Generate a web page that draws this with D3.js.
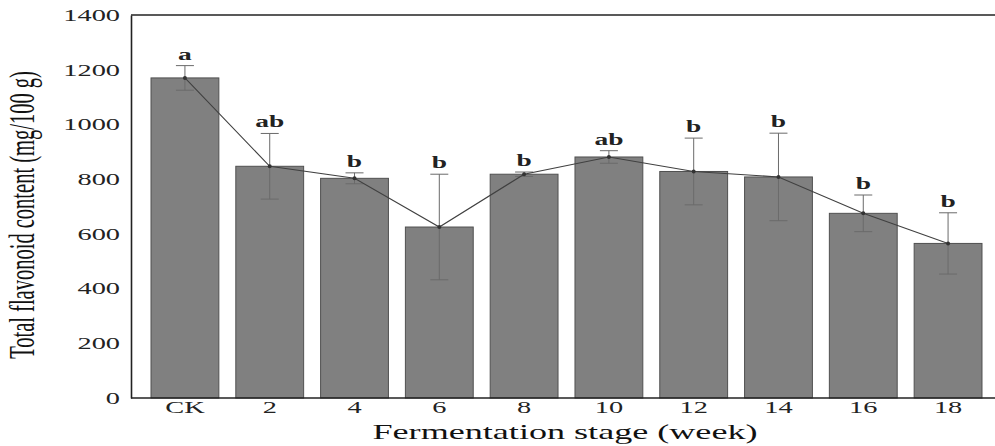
<!DOCTYPE html>
<html>
<head>
<meta charset="utf-8">
<script src="https://cdn.jsdelivr.net/npm/d3@7"></script>
<style>
  body { margin: 0; background: #fff; }
  svg { display: block; font-family: "Liberation Serif", "DejaVu Serif", serif; }
</style>
</head>
<body>
<svg id="chart" width="995" height="446"></svg>
<script>
const stages = ['CK', '2', '4', '6', '8', '10', '12', '14', '16', '18'];
const flavonoid = [1170, 847, 803, 625, 818, 881, 828, 808, 675, 565];
const errors = [45, 120, 20, 193, 8, 23, 122, 160, 67, 112];
const letters = ['a', 'ab', 'b', 'b', 'b', 'ab', 'b', 'b', 'b', 'b'];
const yTicks = [0, 200, 400, 600, 800, 1000, 1200, 1400];

// text in the source figure is stretched sideways
const stretch = 1.72;

const svg = d3.select('#chart');
const plotLeft = 131, plotRight = 1002, plotTop = 15, plotBottom = 398;

const x = d3.scaleBand().domain(stages).range([plotLeft, plotRight])
  .paddingInner(0.2).paddingOuter(0.236);
const y = d3.scaleLinear().domain([0, 1400]).range([plotBottom, plotTop]);

// y axis
const yAxis = svg.append('g').attr('transform', `translate(${plotLeft},0)`)
  .call(d3.axisLeft(y).tickValues(yTicks).tickFormat(d3.format('d')).tickSize(0).tickPadding(0));
yAxis.select('.domain').attr('stroke', '#222').attr('stroke-width', 1.6);
yAxis.selectAll('text')
  .attr('x', -11 / stretch)
  .attr('transform', `scale(${stretch},1)`)
  .attr('font-size', 16.5)
  .attr('font-family', '"Liberation Serif", serif')
  .attr('fill', '#222');

// bars
svg.append('g').selectAll('rect').data(stages).join('rect')
  .attr('x', (d) => x(d))
  .attr('y', (d, i) => y(flavonoid[i]))
  .attr('width', x.bandwidth())
  .attr('height', (d, i) => plotBottom - y(flavonoid[i]))
  .attr('fill', '#808080')
  .attr('stroke', '#505050')
  .attr('stroke-width', 1);

// error bars
const cx = (d) => x(d) + x.bandwidth() / 2;
const errG = svg.append('g').attr('stroke', '#6a6a6a').attr('stroke-width', 1);
errG.selectAll('line.v').data(stages).join('line').classed('v', true)
  .attr('x1', cx).attr('x2', cx)
  .attr('y1', (d, i) => y(flavonoid[i] + errors[i]))
  .attr('y2', (d, i) => y(flavonoid[i] - errors[i]));
errG.selectAll('line.cap-top').data(stages).join('line').classed('cap-top', true)
  .attr('x1', (d) => cx(d) - 9).attr('x2', (d) => cx(d) + 9)
  .attr('y1', (d, i) => y(flavonoid[i] + errors[i]))
  .attr('y2', (d, i) => y(flavonoid[i] + errors[i]));
errG.selectAll('line.cap-bot').data(stages).join('line').classed('cap-bot', true)
  .attr('x1', (d) => cx(d) - 9).attr('x2', (d) => cx(d) + 9)
  .attr('y1', (d, i) => y(flavonoid[i] - errors[i]))
  .attr('y2', (d, i) => y(flavonoid[i] - errors[i]));

// trend line through means
const line = d3.line().x((d) => cx(d)).y((d, i) => y(flavonoid[i]));
svg.append('path').datum(stages)
  .attr('d', line)
  .attr('fill', 'none')
  .attr('stroke', '#404040')
  .attr('stroke-width', 1.1);
svg.append('g').selectAll('circle').data(stages).join('circle')
  .attr('cx', cx)
  .attr('cy', (d, i) => y(flavonoid[i]))
  .attr('r', 2)
  .attr('fill', '#333');

// significance letters
svg.append('g').selectAll('text').data(stages).join('text')
  .attr('transform', (d, i) => `translate(${cx(d)},${y(flavonoid[i] + errors[i]) - 6}) scale(${stretch},1)`)
  .attr('text-anchor', 'middle')
  .attr('font-size', 16)
  .attr('font-weight', 'bold')
  .attr('fill', '#222')
  .text((d, i) => letters[i]);

// x axis (tick texts are stretched around the tick origin)
const xAxis = svg.append('g').attr('transform', `translate(0,${plotBottom})`)
  .call(d3.axisBottom(x).tickSize(0).tickPadding(0));
xAxis.select('.domain').remove();
xAxis.selectAll('text')
  .attr('y', 15)
  .attr('dy', 0)
  .attr('transform', `scale(${stretch},1)`)
  .attr('font-size', 16.5)
  .attr('font-family', '"Liberation Serif", serif')
  .attr('fill', '#222');
svg.append('line')
  .attr('x1', plotLeft).attr('x2', 995).attr('y1', plotBottom).attr('y2', plotBottom)
  .attr('stroke', '#222').attr('stroke-width', 1.6);

// top frame line
svg.append('line')
  .attr('x1', plotLeft).attr('x2', 995).attr('y1', plotTop).attr('y2', plotTop)
  .attr('stroke', '#222').attr('stroke-width', 1.6);

// axis titles
svg.append('text')
  .attr('transform', `translate(565,439) scale(${stretch},1)`)
  .attr('text-anchor', 'middle')
  .attr('font-size', 21)
  .attr('fill', '#111')
  .text('Fermentation stage (week)');

svg.append('text')
  .attr('transform', `translate(34,215) scale(${stretch},1) rotate(-90)`)
  .attr('text-anchor', 'middle')
  .attr('font-size', 20.5)
  .attr('fill', '#111')
  .text('Total flavonoid content (mg/100 g)');
</script>
</body>
</html>
